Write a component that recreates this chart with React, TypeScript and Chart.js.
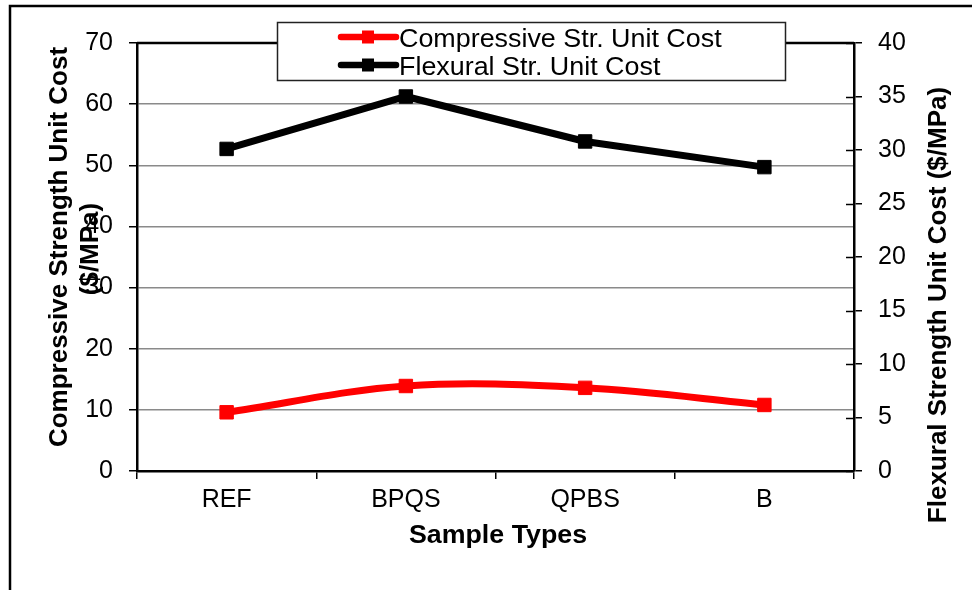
import React, { useEffect, useRef } from "react";
import { Chart, registerables } from "chart.js";

Chart.register(...registerables);

const categories = ["REF", "BPQS", "QPBS", "B"];
const compressiveCost = [9.6, 13.9, 13.6, 10.8];
const flexuralCost = [30.1, 35.0, 30.8, 28.4];
const seriesNames = ["Compressive Str. Unit Cost", "Flexural Str. Unit Cost"];
const seriesColors = ["#ff0000", "#000000"];
const leftAxisRange = [0, 70, 10];
const rightAxisRange = [0, 40, 5];
const leftTitleLines = ["Compressive Strength Unit Cost", "($/MPa)"];
const rightTitle = "Flexural Strength Unit Cost ($/MPa)";
const xTitle = "Sample Types";

const FONT = "'Liberation Sans', Arial, sans-serif";

const decor = {
  id: "decor",
  beforeDraw(chart: any) {
    const ctx = chart.ctx;
    ctx.save();
    ctx.fillStyle = "#fff";
    ctx.fillRect(0, 0, chart.width, chart.height);
    ctx.restore();
  },
  afterDraw(chart: any) {
    const ctx = chart.ctx;
    const a = chart.chartArea;
    ctx.save();
    // top border of plot
    ctx.strokeStyle = "#000";
    ctx.lineWidth = 2.5;
    ctx.beginPath();
    ctx.moveTo(a.left, a.top);
    ctx.lineTo(a.right, a.top);
    ctx.stroke();
    // inner ticks on right axis
    const y1 = chart.scales.y1;
    ctx.lineWidth = 1.5;
    y1.ticks.forEach((t: any) => {
      const py = Math.round(y1.getPixelForValue(t.value)) + 0.5;
      ctx.beginPath();
      ctx.moveTo(a.right - 8, py);
      ctx.lineTo(a.right, py);
      ctx.stroke();
    });
    // outer frame
    ctx.lineWidth = 2.5;
    ctx.strokeRect(10, 6, 2000, 2000);

    // titles
    ctx.fillStyle = "#000";
    ctx.font = `bold 26px ${FONT}`;
    ctx.textAlign = "center";
    ctx.textBaseline = "middle";
    ctx.save();
    ctx.translate(60, 247);
    ctx.rotate(-Math.PI / 2);
    ctx.fillText(leftTitleLines[0], 0, 0);
    ctx.restore();
    ctx.save();
    ctx.translate(91, 249);
    ctx.rotate(-Math.PI / 2);
    ctx.fillText(leftTitleLines[1], 0, 0);
    ctx.restore();
    ctx.save();
    ctx.translate(939, 305);
    ctx.rotate(-Math.PI / 2);
    ctx.fillText(rightTitle, 0, 0);
    ctx.restore();
    ctx.textBaseline = "alphabetic";
    ctx.save();
    ctx.translate(498, 543);
    ctx.scale(1.03, 1);
    ctx.fillText(xTitle, 0, 0);
    ctx.restore();

    // legend
    ctx.fillStyle = "#fff";
    ctx.fillRect(277, 22, 508, 58);
    ctx.strokeStyle = "#222";
    ctx.lineWidth = 1.5;
    ctx.strokeRect(277.5, 22.5, 508, 58);
    const rows = [37, 65];
    ctx.font = `25px ${FONT}`;
    ctx.textAlign = "left";
    rows.forEach((ry, i) => {
      ctx.strokeStyle = seriesColors[i];
      ctx.lineWidth = 6.5;
      ctx.lineCap = "round";
      ctx.beginPath();
      ctx.moveTo(341, ry);
      ctx.lineTo(396, ry);
      ctx.stroke();
      ctx.fillStyle = seriesColors[i];
      ctx.fillRect(362, ry - 6.5, 12, 13);
      ctx.fillStyle = "#000";
      ctx.save();
      ctx.translate(399, ry + 9.5);
      ctx.scale(1.075, 1);
      ctx.fillText(seriesNames[i], 0, 0);
      ctx.restore();
    });
    ctx.restore();
  },
};

export default function App() {
  const ref = useRef<HTMLCanvasElement>(null);
  useEffect(() => {
    if (!ref.current) return;
    const chart = new Chart(ref.current, {
      type: "line",
      data: {
        labels: categories,
        datasets: [
          {
            label: seriesNames[1],
            data: flexuralCost,
            yAxisID: "y1",
            borderColor: seriesColors[1],
            backgroundColor: seriesColors[1],
            borderWidth: 7,
            pointStyle: "rect",
            pointRadius: 9.5,
            pointBorderWidth: 1,
            tension: 0,
          },
          {
            label: seriesNames[0],
            data: compressiveCost,
            yAxisID: "y",
            borderColor: seriesColors[0],
            backgroundColor: seriesColors[0],
            borderWidth: 7,
            pointStyle: "rect",
            pointRadius: 9.5,
            pointBorderWidth: 1,
            tension: 0.35,
          },
        ],
      },
      options: {
        animation: false,
        responsive: false,
        devicePixelRatio: 1,
        layout: { padding: { top: 43, left: 0, right: 0, bottom: 0 } },
        plugins: { legend: { display: false }, tooltip: { enabled: false } },
        scales: {
          x: {
            type: "category",
            offset: true,
            afterFit: (s: any) => {
              s.height = 119;
            },
            grid: {
              display: true,
              drawOnChartArea: false,
              offset: true,
              color: "#000",
              tickLength: 8,
              lineWidth: 1.5,
            },
            border: { display: true, color: "#000", width: 2.5 },
            ticks: {
              color: "#000",
              font: { family: FONT, size: 25 },
              padding: 6,
              maxRotation: 0,
            },
          },
          y: {
            position: "left",
            min: leftAxisRange[0],
            max: leftAxisRange[1],
            afterFit: (s: any) => {
              s.width = 137;
            },
            ticks: {
              stepSize: leftAxisRange[2],
              color: "#000",
              font: { family: FONT, size: 25 },
              padding: 16,
            },
            grid: {
              color: "#8a8a8a",
              lineWidth: 1.5,
              tickColor: "#000",
              tickLength: 8,
            },
            border: { display: true, color: "#000", width: 2.5 },
          },
          y1: {
            position: "right",
            min: rightAxisRange[0],
            max: rightAxisRange[1],
            afterFit: (s: any) => {
              s.width = 118;
            },
            ticks: {
              stepSize: rightAxisRange[2],
              color: "#000",
              font: { family: FONT, size: 25 },
              padding: 16,
            },
            grid: {
              drawOnChartArea: false,
              color: "#000",
              lineWidth: 1.5,
              tickLength: 8,
            },
            border: { display: true, color: "#000", width: 2.5 },
          },
        },
      },
      plugins: [decor],
    });
    return () => chart.destroy();
  }, []);
  return (
    <div style={{ position: "fixed", left: 0, top: 0, width: 972, height: 590 }}>
      <canvas ref={ref} width={972} height={590} style={{ display: "block" }} />
    </div>
  );
}
